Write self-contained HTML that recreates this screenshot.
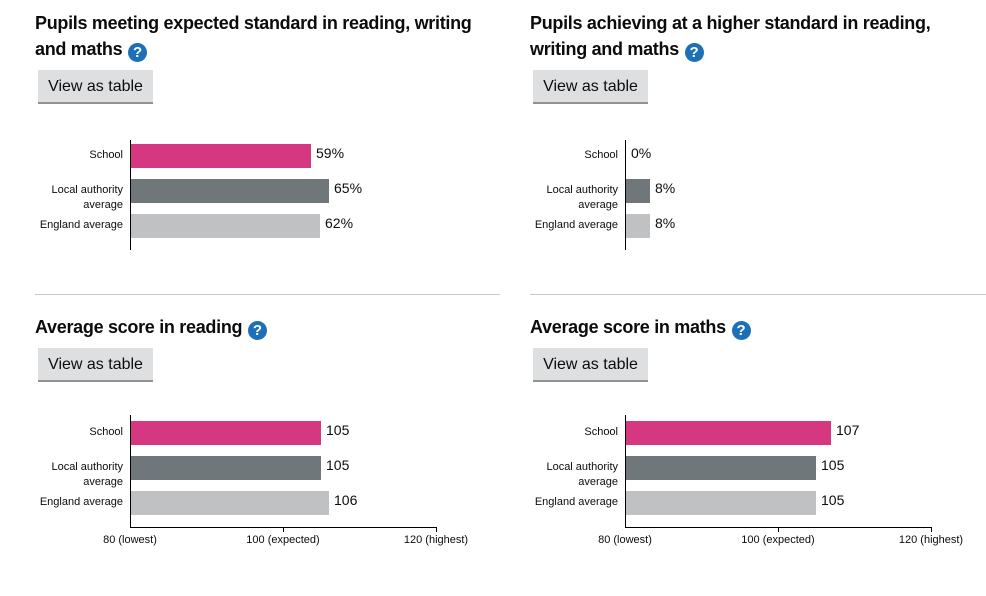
<!DOCTYPE html>
<html><head><style>
body{margin:0;width:986px;height:596px;background:#fff;position:relative;font-family:"Liberation Sans",Arial,sans-serif;color:#0b0c0c;overflow:hidden}
.a{position:absolute}
h2{position:absolute;margin:0;font-size:18px;font-weight:bold;line-height:26px;width:470px;letter-spacing:-0.3px}
.q{display:inline-block;width:19px;height:19px;border-radius:50%;background:#1d70b8;color:#fff;font-size:15px;line-height:19px;text-align:center;vertical-align:-2px;margin-left:1px;letter-spacing:0}
.btn{position:absolute;width:115px;height:32px;background:#dedfe0;border-bottom:2px solid #929191;font-size:16px;line-height:34px;text-align:center}
.lbl{position:absolute;font-size:11px;text-align:right;width:95px;line-height:15px}
.bar{position:absolute;height:24px}
.v{position:absolute;font-size:14px}
.ax{position:absolute;background:#000}
.hr{position:absolute;height:1px;background:#c8c8c8}
.t{position:absolute;font-size:11px;width:100px;text-align:center}
</style></head><body>

<h2 style="left:35px;top:10px;width:460px">Pupils meeting expected standard in reading, writing and maths <span class="q">?</span></h2>
<div class="btn" style="left:38px;top:70px">View as table</div>
<div class="ax" style="left:130px;top:140px;width:1px;height:110px"></div>
<div class="lbl" style="left:28px;top:148px">School</div>
<div class="lbl" style="left:28px;top:183px">Local authority<br>average</div>
<div class="lbl" style="left:28px;top:218px">England average</div>
<div class="bar" style="left:131px;top:144px;width:180px;background:#d53880"></div>
<div class="bar" style="left:131px;top:179px;width:198px;background:#6f777b"></div>
<div class="bar" style="left:131px;top:214px;width:189px;background:#bfc1c3"></div>
<div class="v" style="left:316px;top:145px">59%</div>
<div class="v" style="left:334px;top:180px">65%</div>
<div class="v" style="left:325px;top:215px">62%</div>

<h2 style="left:530px;top:10px;width:420px">Pupils achieving at a higher standard in reading, writing and maths <span class="q">?</span></h2>
<div class="btn" style="left:533px;top:70px">View as table</div>
<div class="ax" style="left:625px;top:140px;width:1px;height:110px"></div>
<div class="lbl" style="left:523px;top:148px">School</div>
<div class="lbl" style="left:523px;top:183px">Local authority<br>average</div>
<div class="lbl" style="left:523px;top:218px">England average</div>
<div class="bar" style="left:626px;top:179px;width:24px;background:#6f777b"></div>
<div class="bar" style="left:626px;top:214px;width:24px;background:#bfc1c3"></div>
<div class="v" style="left:631px;top:145px">0%</div>
<div class="v" style="left:655px;top:180px">8%</div>
<div class="v" style="left:655px;top:215px">8%</div>

<div class="hr" style="left:35px;top:294px;width:465px"></div>
<div class="hr" style="left:530px;top:294px;width:456px"></div>

<h2 style="left:35px;top:314px">Average score in reading <span class="q">?</span></h2>
<div class="btn" style="left:38px;top:348px">View as table</div>
<div class="ax" style="left:130px;top:415px;width:1px;height:112px"></div>
<div class="ax" style="left:130px;top:527px;width:306px;height:1px"></div>
<div class="ax" style="left:283px;top:527px;width:1px;height:5px"></div>
<div class="ax" style="left:436px;top:527px;width:1px;height:5px"></div>
<div class="lbl" style="left:28px;top:425px">School</div>
<div class="lbl" style="left:28px;top:460px">Local authority<br>average</div>
<div class="lbl" style="left:28px;top:495px">England average</div>
<div class="bar" style="left:131px;top:421px;width:190px;background:#d53880"></div>
<div class="bar" style="left:131px;top:456px;width:190px;background:#6f777b"></div>
<div class="bar" style="left:131px;top:491px;width:198px;background:#bfc1c3"></div>
<div class="v" style="left:326px;top:422px">105</div>
<div class="v" style="left:326px;top:457px">105</div>
<div class="v" style="left:334px;top:492px">106</div>
<div class="t" style="left:80px;top:534px">80 (lowest)</div>
<div class="t" style="left:233px;top:534px">100 (expected)</div>
<div class="t" style="left:386px;top:534px">120 (highest)</div>

<h2 style="left:530px;top:314px">Average score in maths <span class="q">?</span></h2>
<div class="btn" style="left:533px;top:348px">View as table</div>
<div class="ax" style="left:625px;top:415px;width:1px;height:112px"></div>
<div class="ax" style="left:625px;top:527px;width:306px;height:1px"></div>
<div class="ax" style="left:778px;top:527px;width:1px;height:5px"></div>
<div class="ax" style="left:931px;top:527px;width:1px;height:5px"></div>
<div class="lbl" style="left:523px;top:425px">School</div>
<div class="lbl" style="left:523px;top:460px">Local authority<br>average</div>
<div class="lbl" style="left:523px;top:495px">England average</div>
<div class="bar" style="left:626px;top:421px;width:205px;background:#d53880"></div>
<div class="bar" style="left:626px;top:456px;width:190px;background:#6f777b"></div>
<div class="bar" style="left:626px;top:491px;width:190px;background:#bfc1c3"></div>
<div class="v" style="left:836px;top:422px">107</div>
<div class="v" style="left:821px;top:457px">105</div>
<div class="v" style="left:821px;top:492px">105</div>
<div class="t" style="left:575px;top:534px">80 (lowest)</div>
<div class="t" style="left:728px;top:534px">100 (expected)</div>
<div class="t" style="left:881px;top:534px">120 (highest)</div>
</body></html>
